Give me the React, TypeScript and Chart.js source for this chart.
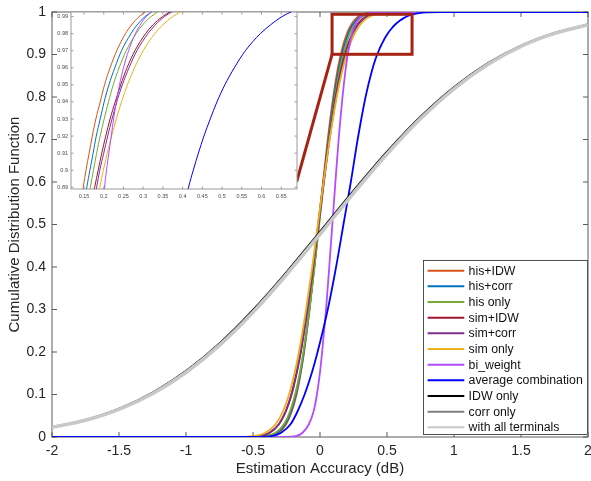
import React, { useEffect, useRef } from "react";
import { Chart, registerables } from "chart.js";

Chart.register(...registerables);

const W = 591;
const H = 481;
const FONT = "'Liberation Sans', Arial, Helvetica, sans-serif";

// Main panel ticks
const X_TICKS = [-2, -1.5, -1, -0.5, 0, 0.5, 1, 1.5, 2];
const Y_TICKS = [0, 0.1, 0.2, 0.3, 0.4, 0.5, 0.6, 0.7, 0.8, 0.9, 1];

// Magnified panel ticks and limits
const ZOOM_X_TICKS = [0.15, 0.2, 0.25, 0.3, 0.35, 0.4, 0.45, 0.5, 0.55, 0.6, 0.65];
const ZOOM_Y_TICKS = [0.89, 0.9, 0.91, 0.92, 0.93, 0.94, 0.95, 0.96, 0.97, 0.98, 0.99];
const ZOOM_X_LIMITS = [0.117, 0.69];
const ZOOM_Y_LIMITS = [0.889, 0.9927];

// Highlighted region in the main panel and the end of its leader line
const ZOOM_BOX_X = [0.09, 0.687];
const ZOOM_BOX_Y = [0.9005, 0.9946];
const LEADER_END = [-0.174, 0.6007];

// CDF levels at which the concentrated estimators are tabulated
const CDF_LEVELS = [
  0, 0.002, 0.01, 0.03, 0.06, 0.1, 0.15, 0.2, 0.3, 0.4, 0.5, 0.6, 0.7, 0.8, 0.86,
  0.89, 0.9, 0.91, 0.92, 0.93, 0.94, 0.95, 0.96, 0.97, 0.98, 0.985, 0.99, 0.995, 0.999, 1,
];

// Estimation accuracy (dB) reached at each CDF level
const HIS_IDW = [
  -0.474, -0.381, -0.31, -0.253, -0.211, -0.175, -0.144, -0.119, -0.078, -0.043, -0.01, 0.023, 0.058, 0.099, 0.129,
  0.148, 0.155, 0.163, 0.171, 0.18, 0.191, 0.202, 0.216, 0.233, 0.255, 0.27, 0.29, 0.322, 0.389, 0.454,
];
const HIS_CORR = [
  -0.493, -0.395, -0.321, -0.261, -0.217, -0.181, -0.147, -0.121, -0.079, -0.042, -0.008, 0.026, 0.063, 0.105, 0.137,
  0.157, 0.165, 0.173, 0.181, 0.191, 0.201, 0.213, 0.228, 0.245, 0.269, 0.284, 0.305, 0.339, 0.408, 0.477,
];
const HIS_ONLY = [
  -0.51, -0.409, -0.332, -0.269, -0.224, -0.186, -0.151, -0.124, -0.079, -0.041, -0.006, 0.029, 0.067, 0.112, 0.145,
  0.166, 0.174, 0.182, 0.191, 0.201, 0.212, 0.224, 0.239, 0.257, 0.282, 0.298, 0.32, 0.355, 0.427, 0.498,
];
const SIM_IDW = [
  -0.576, -0.463, -0.377, -0.307, -0.257, -0.214, -0.176, -0.145, -0.096, -0.053, -0.014, 0.025, 0.068, 0.117, 0.154,
  0.177, 0.186, 0.195, 0.205, 0.216, 0.229, 0.243, 0.259, 0.279, 0.306, 0.324, 0.349, 0.388, 0.468, 0.548,
];
const SIM_CORR = [
  -0.576, -0.463, -0.376, -0.306, -0.255, -0.212, -0.174, -0.143, -0.093, -0.051, -0.011, 0.029, 0.071, 0.121, 0.159,
  0.182, 0.19, 0.2, 0.21, 0.221, 0.233, 0.247, 0.264, 0.284, 0.312, 0.33, 0.354, 0.393, 0.474, 0.554,
];
const SIM_ONLY = [
  -0.621, -0.5, -0.407, -0.332, -0.277, -0.231, -0.19, -0.157, -0.104, -0.058, -0.016, 0.026, 0.072, 0.125, 0.165,
  0.19, 0.199, 0.209, 0.22, 0.232, 0.245, 0.26, 0.278, 0.3, 0.329, 0.349, 0.375, 0.417, 0.503, 0.589,
];
const BI_WEIGHT = [
  -0.25, -0.18, -0.13, -0.083, -0.048, -0.023, -0.001, 0.016, 0.045, 0.069, 0.092, 0.115, 0.139, 0.168, 0.189,
  0.202, 0.207, 0.213, 0.219, 0.225, 0.232, 0.24, 0.25, 0.263, 0.28, 0.292, 0.308, 0.335, 0.38, 0.43,
];
const AVERAGE_COMB = [
  -0.44, -0.36, -0.29, -0.22, -0.168, -0.115, -0.062, -0.018, 0.058, 0.12, 0.175, 0.23, 0.281, 0.34, 0.386,
  0.415, 0.427, 0.44, 0.454, 0.47, 0.487, 0.507, 0.531, 0.559, 0.597, 0.622, 0.652, 0.7, 0.8, 0.9,
];

// Broad estimators, tabulated on a regular accuracy grid
const ERROR_GRID = [-2, -1.75, -1.5, -1.25, -1, -0.75, -0.5, -0.25, 0, 0.25, 0.5, 0.75, 1, 1.25, 1.5, 1.75, 2];
const IDW_ONLY = [
  0.0238, 0.041, 0.0674, 0.1053, 0.1564, 0.2215, 0.3001, 0.3892, 0.4846, 0.5808, 0.6724, 0.7548, 0.8243, 0.88,
  0.9218, 0.9516, 0.9714,
];
const CORR_ONLY = [
  0.0233, 0.0402, 0.0662, 0.1035, 0.1541, 0.2186, 0.2967, 0.3855, 0.4807, 0.577, 0.6689, 0.7517, 0.8218, 0.878,
  0.9204, 0.9506, 0.9708,
];
const ALL_TERMINALS = [
  0.0228, 0.0394, 0.065, 0.1017, 0.1518, 0.2157, 0.2933, 0.3818, 0.4768, 0.5732, 0.6654, 0.7486, 0.8193, 0.876,
  0.919, 0.9496, 0.9702,
];

const STEEP = [
  { label: "his+IDW", color: "#D95319", xs: HIS_IDW },
  { label: "his+corr", color: "#0072BD", xs: HIS_CORR },
  { label: "his only", color: "#77AC30", xs: HIS_ONLY },
  { label: "sim+IDW", color: "#A2142F", xs: SIM_IDW },
  { label: "sim+corr", color: "#7E2F8E", xs: SIM_CORR },
  { label: "sim only", color: "#EDB120", xs: SIM_ONLY },
  { label: "bi_weight", color: "#B24DFF", xs: BI_WEIGHT },
  { label: "average combination", color: "#0000FF", xs: AVERAGE_COMB },
];
const WIDE = [
  { label: "IDW only", color: "#000000", ys: IDW_ONLY, width: 1.2 },
  { label: "corr only", color: "#808080", ys: CORR_ONLY, width: 2 },
  { label: "with all terminals", color: "#C8C8C8", ys: ALL_TERMINALS, width: 3.5 },
];

function steepPoints(xs: number[]) {
  return [
    { x: X_TICKS[0], y: 0 },
    ...CDF_LEVELS.map((p, i) => ({ x: xs[i], y: p })),
    { x: X_TICKS[X_TICKS.length - 1], y: 1 },
  ];
}

// keep the plot box fixed: no extra room reserved for overhanging edge labels
function noEdgePadding(s: any) {
  s.paddingLeft = 0;
  s.paddingRight = 0;
  s.paddingTop = 0;
  s.paddingBottom = 0;
}

function frame(id: string, color: string, tickLen: number, fill: boolean) {
  return {
    id,
    beforeDatasetsDraw(chart: any) {
      const { ctx, chartArea: a } = chart;
      const xs = chart.scales.x;
      const ys = chart.scales.y;
      ctx.save();
      if (fill) {
        ctx.fillStyle = "#ffffff";
        ctx.fillRect(a.left, a.top, a.right - a.left, a.bottom - a.top);
      }
      ctx.strokeStyle = color;
      ctx.lineWidth = 1;
      ctx.strokeRect(a.left, a.top, a.right - a.left, a.bottom - a.top);
      ctx.beginPath();
      for (const t of xs.ticks) {
        const p = xs.getPixelForValue(t.value);
        ctx.moveTo(p, a.bottom);
        ctx.lineTo(p, a.bottom - tickLen);
        ctx.moveTo(p, a.top);
        ctx.lineTo(p, a.top + tickLen);
      }
      for (const t of ys.ticks) {
        const p = ys.getPixelForValue(t.value);
        ctx.moveTo(a.left, p);
        ctx.lineTo(a.left + tickLen, p);
        ctx.moveTo(a.right, p);
        ctx.lineTo(a.right - tickLen, p);
      }
      ctx.stroke();
      ctx.restore();
    },
  };
}

const zoomMarker = {
  id: "zoomMarker",
  afterDatasetsDraw(chart: any) {
    const { ctx } = chart;
    const xs = chart.scales.x;
    const ys = chart.scales.y;
    const x0 = xs.getPixelForValue(ZOOM_BOX_X[0]);
    const x1 = xs.getPixelForValue(ZOOM_BOX_X[1]);
    const y0 = ys.getPixelForValue(ZOOM_BOX_Y[0]);
    const y1 = ys.getPixelForValue(ZOOM_BOX_Y[1]);
    const lx = xs.getPixelForValue(LEADER_END[0]);
    const ly = ys.getPixelForValue(LEADER_END[1]);
    ctx.save();
    ctx.strokeStyle = "#A52313";
    ctx.lineWidth = 3;
    ctx.strokeRect(x0, y1, x1 - x0, y0 - y1);
    ctx.beginPath();
    ctx.moveTo(x0, y0);
    ctx.lineTo(lx, ly);
    ctx.stroke();
    ctx.restore();
  },
};

const boxedLegend = {
  id: "boxedLegend",
  afterDraw(chart: any) {
    const { ctx, chartArea: a } = chart;
    const items = chart.data.datasets;
    const boxW = 165;
    const boxH = 175;
    const right = a.right;
    const bottom = a.bottom - 2;
    const left = right - boxW;
    const top = bottom - boxH;
    const rowH = 15.66;
    ctx.save();
    ctx.fillStyle = "#ffffff";
    ctx.fillRect(left, top, boxW, boxH);
    ctx.strokeStyle = "#262626";
    ctx.lineWidth = 0.8;
    ctx.strokeRect(left + 0.5, top + 0.5, boxW - 1, boxH - 1);
    ctx.font = `12.3px ${FONT}`;
    ctx.textBaseline = "middle";
    ctx.textAlign = "left";
    items.forEach((d: any, i: number) => {
      const y = top + 10.7 + i * rowH;
      ctx.strokeStyle = d.borderColor;
      ctx.lineWidth = 2;
      ctx.beginPath();
      ctx.moveTo(left + 4.6, y);
      ctx.lineTo(left + 41.3, y);
      ctx.stroke();
      ctx.fillStyle = "#111111";
      ctx.fillText(d.label, left + 45.6, y + 0.5);
    });
    ctx.restore();
  },
};

function mainChart(canvas: HTMLCanvasElement) {
  const n = STEEP.length + WIDE.length;
  const datasets: any[] = [
    ...STEEP.map((s, i) => ({
      label: s.label,
      data: steepPoints(s.xs),
      borderColor: s.color,
      borderWidth: 1.8,
      order: n - i,
    })),
    ...WIDE.map((s, j) => ({
      label: s.label,
      data: ERROR_GRID.map((x, i) => ({ x, y: s.ys[i] })),
      borderColor: s.color,
      borderWidth: s.width,
      order: n - STEEP.length - j,
    })),
  ];
  return new Chart(canvas, {
    type: "line",
    data: { datasets },
    options: {
      responsive: false,
      animation: false,
      devicePixelRatio: 1,
      layout: { padding: { top: 12, right: 3, bottom: 0, left: 0 } },
      elements: {
        point: { radius: 0 },
        line: { cubicInterpolationMode: "monotone", fill: false },
      },
      plugins: { legend: { display: false }, tooltip: { enabled: false } },
      scales: {
        x: {
          type: "linear",
          min: X_TICKS[0],
          max: X_TICKS[X_TICKS.length - 1],
          afterBuildTicks: (s: any) => {
            s.ticks = X_TICKS.map((value) => ({ value }));
          },
          afterFit: (s: any) => {
            s.height = 44;
            noEdgePadding(s);
          },
          grid: { display: false, drawTicks: false },
          border: { display: false },
          ticks: {
            font: { family: FONT, size: 14 },
            color: "#262626",
            padding: 6,
            maxRotation: 0,
            autoSkip: false,
            callback: (v: any) => String(v),
          },
          title: {
            display: true,
            text: "Estimation Accuracy (dB)",
            font: { family: FONT, size: 15 },
            color: "#262626",
            padding: { top: 0, bottom: 3 },
          },
        },
        y: {
          type: "linear",
          min: Y_TICKS[0],
          max: Y_TICKS[Y_TICKS.length - 1],
          afterBuildTicks: (s: any) => {
            s.ticks = Y_TICKS.map((value) => ({ value }));
          },
          afterFit: (s: any) => {
            s.width = 52;
            noEdgePadding(s);
          },
          grid: { display: false, drawTicks: false },
          border: { display: false },
          ticks: {
            font: { family: FONT, size: 14 },
            color: "#262626",
            padding: 6,
            autoSkip: false,
            callback: (v: any) => String(v),
          },
          title: {
            display: true,
            text: "Cumulative Distribution Function",
            font: { family: FONT, size: 15 },
            color: "#262626",
            padding: { top: 6, bottom: 0 },
          },
        },
      },
    },
    plugins: [frame("mainFrame", "#5a5a5a", 5, false), zoomMarker, boxedLegend],
  } as any);
}

function zoomChart(canvas: HTMLCanvasElement) {
  const datasets: any[] = STEEP.map((s, i) => ({
    label: s.label,
    data: steepPoints(s.xs),
    borderColor: s.color,
    borderWidth: 1,
    order: STEEP.length - i,
  }));
  return new Chart(canvas, {
    type: "line",
    data: { datasets },
    options: {
      responsive: false,
      animation: false,
      devicePixelRatio: 1,
      layout: { padding: { top: 12, right: W - 297, bottom: H - 189 - 14, left: 0 } },
      elements: {
        point: { radius: 0 },
        line: { cubicInterpolationMode: "monotone", fill: false },
      },
      plugins: { legend: { display: false }, tooltip: { enabled: false } },
      scales: {
        x: {
          type: "linear",
          min: ZOOM_X_LIMITS[0],
          max: ZOOM_X_LIMITS[1],
          afterBuildTicks: (s: any) => {
            s.ticks = ZOOM_X_TICKS.map((value) => ({ value }));
          },
          afterFit: (s: any) => {
            s.height = 14;
            noEdgePadding(s);
          },
          grid: { display: false, drawTicks: false },
          border: { display: false },
          ticks: {
            font: { family: FONT, size: 5.5 },
            color: "#4a4a4a",
            padding: 4,
            maxRotation: 0,
            autoSkip: false,
            callback: (v: any) => String(v),
          },
        },
        y: {
          type: "linear",
          min: ZOOM_Y_LIMITS[0],
          max: ZOOM_Y_LIMITS[1],
          afterBuildTicks: (s: any) => {
            s.ticks = ZOOM_Y_TICKS.map((value) => ({ value }));
          },
          afterFit: (s: any) => {
            s.width = 71;
            noEdgePadding(s);
          },
          grid: { display: false, drawTicks: false },
          border: { display: false },
          ticks: {
            font: { family: FONT, size: 5.5 },
            color: "#4a4a4a",
            padding: 3,
            autoSkip: false,
            callback: (v: any) => String(v),
          },
        },
      },
    },
    plugins: [frame("zoomFrame", "#9a9a9a", 2.5, true)],
  } as any);
}

export default function App() {
  const mainRef = useRef<HTMLCanvasElement>(null);
  const zoomRef = useRef<HTMLCanvasElement>(null);

  useEffect(() => {
    const main = mainChart(mainRef.current as HTMLCanvasElement);
    const zoom = zoomChart(zoomRef.current as HTMLCanvasElement);
    return () => {
      main.destroy();
      zoom.destroy();
    };
  }, []);

  return (
    <div style={{ position: "fixed", left: 0, top: 0, width: W, height: H, background: "#ffffff" }}>
      <canvas ref={mainRef} width={W} height={H} style={{ position: "absolute", left: 0, top: 0 }} />
      <canvas
        ref={zoomRef}
        width={W}
        height={H}
        style={{ position: "absolute", left: 0, top: 0, pointerEvents: "none" }}
      />
    </div>
  );
}
